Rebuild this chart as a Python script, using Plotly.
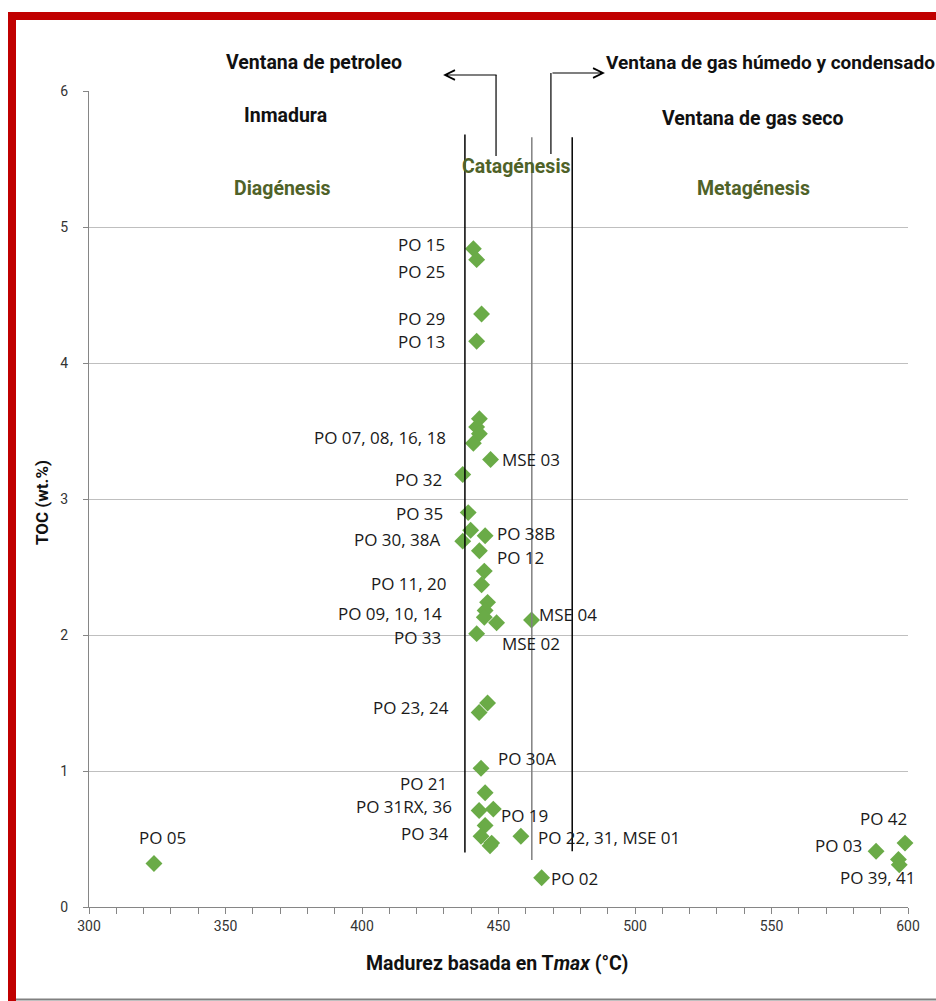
import plotly.graph_objects as go

# ---------------- data ----------------
tmax = [440.8, 442.0, 443.8, 442.0, 443.0, 442.0, 443.0, 440.8, 447.1, 436.9,
        438.9, 439.8, 436.9, 445.1, 443.0, 444.8, 443.8, 446.0, 445.1, 444.8,
        449.3, 462.1, 442.0, 446.0, 442.9, 443.6, 445.1, 442.9, 448.1, 445.1,
        443.6, 447.5, 446.9, 458.2, 465.8, 323.8, 588.3, 598.9, 596.5, 596.8]
toc = [4.84, 4.76, 4.36, 4.16, 3.59, 3.53, 3.48, 3.41, 3.29, 3.18,
       2.90, 2.77, 2.69, 2.73, 2.62, 2.47, 2.37, 2.24, 2.18, 2.13,
       2.09, 2.11, 2.01, 1.50, 1.43, 1.02, 0.84, 0.71, 0.72, 0.60,
       0.52, 0.47, 0.45, 0.52, 0.215, 0.32, 0.41, 0.47, 0.35, 0.31]

label_text = ["PO 15", "PO 25", "PO 29", "PO 13", "PO 07, 08, 16, 18", "MSE 03",
              "PO 32", "PO 35", "PO 38B", "PO 30, 38A", "PO 12", "PO 11, 20",
              "PO 09, 10, 14", "MSE 04", "PO 33", "MSE 02", "PO 23, 24", "PO 30A",
              "PO 21", "PO 31RX, 36", "PO 19", "PO 34", "PO 22, 31, MSE 01",
              "PO 02", "PO 05", "PO 42", "PO 03", "PO 39, 41"]
# label anchor positions (x, y in data units) and alignment
label_x = [431.1, 431.1, 431.1, 431.1, 431.5, 450.5, 430.0, 430.4, 448.7, 429.7,
           448.7, 431.9, 430.0, 464.1, 429.7, 450.5, 432.6, 449.1, 431.9, 433.7,
           450.2, 432.6, 463.7, 468.5, 317.6, 581.7, 583.9, 574.4]
label_y = [4.87, 4.67, 4.33, 4.16, 3.45, 3.29, 3.14, 2.89, 2.75, 2.70,
           2.57, 2.38, 2.16, 2.15, 1.98, 1.94, 1.47, 1.09, 0.91, 0.74,
           0.67, 0.54, 0.51, 0.21, 0.51, 0.65, 0.45, 0.22]
label_align = ["right", "right", "right", "right", "right", "left", "right", "right",
               "left", "right", "left", "right", "right", "left", "right", "left",
               "right", "left", "right", "right", "left", "right", "left", "left",
               "left", "left", "right", "left"]

x_ticks = [300, 350, 400, 450, 500, 550, 600]
y_ticks = [0, 1, 2, 3, 4, 5, 6]

# stage boundaries (Tmax) and their vertical extents (TOC)
boundary_x = [437.7, 462.2, 477.0]
boundary_y0 = [0.40, 0.345, 0.41]
boundary_y1 = [5.68, 5.66, 5.66]
boundary_color = ["black", "#808080", "black"]

# ---------------- figure ----------------
W, H = 936, 1001
PL, PR, PT, PB = 89, 908, 91, 907          # plot area in window pixels
PW, PH = PR - PL, PB - PT
ML, MT = PL, PT
MR, MB = W - ML - PW, H - MT - PH


def px2paper_x(px):
    return (px - PL) / PW


def px2paper_y(py):
    return (PB - py) / PH


GREEN = "#6aab47"
TXT_GREEN = "#4f6228"
HFONT = "Liberation Sans Narrow, Roboto, Arial"
LFONT = "Open Sans, Noto Sans, Arial"

fig = go.Figure()
fig.add_trace(go.Scatter(
    x=tmax, y=toc, mode="markers",
    marker=dict(symbol="diamond", size=13, color=GREEN, line=dict(width=0)),
    showlegend=False, hoverinfo="x+y", cliponaxis=False,
))

shapes = []
for bx, y0, y1, c in zip(boundary_x, boundary_y0, boundary_y1, boundary_color):
    shapes.append(dict(type="line", xref="x", yref="y", x0=bx, x1=bx, y0=y0, y1=y1,
                       line=dict(color=c, width=1.5), layer="above"))

# arrow stems (vertical parts)
shapes.append(dict(type="line", xref="x", yref="paper", x0=449.1, x1=449.1,
                   y0=px2paper_y(156), y1=px2paper_y(75), line=dict(color="black", width=1.2)))
shapes.append(dict(type="line", xref="x", yref="paper", x0=469.2, x1=469.2,
                   y0=px2paper_y(154), y1=px2paper_y(73), line=dict(color="black", width=1.2)))

# red frame
shapes.append(dict(type="rect", xref="paper", yref="paper",
                   x0=px2paper_x(8), x1=px2paper_x(960), y0=px2paper_y(20), y1=px2paper_y(12),
                   fillcolor="#c00000", line=dict(width=0)))
shapes.append(dict(type="rect", xref="paper", yref="paper",
                   x0=px2paper_x(8), x1=px2paper_x(16), y0=px2paper_y(1010), y1=px2paper_y(12),
                   fillcolor="#c00000", line=dict(width=0)))
shapes.append(dict(type="line", xref="paper", yref="paper",
                   x0=px2paper_x(16), x1=px2paper_x(960), y0=px2paper_y(999.5), y1=px2paper_y(999.5),
                   line=dict(color="#808080", width=2)))

annotations = []
for t, lx, ly, al in zip(label_text, label_x, label_y, label_align):
    annotations.append(dict(x=lx, y=ly, xref="x", yref="y", text=t, showarrow=False,
                            xanchor=al, yanchor="middle",
                            font=dict(family=LFONT, size=17, color="#1a1a1a")))

# arrows (horizontal parts)
annotations.append(dict(x=429.7, y=px2paper_y(75), xref="x", yref="paper", text="",
                        showarrow=True, ax=55, ay=0, arrowhead=5, arrowsize=1.6,
                        arrowwidth=1.2, arrowcolor="black"))
annotations.append(dict(x=489.0, y=px2paper_y(73), xref="x", yref="paper", text="",
                        showarrow=True, ax=-54, ay=0, arrowhead=5, arrowsize=1.6,
                        arrowwidth=1.2, arrowcolor="black"))

hdr = [
    ("<b>Ventana de petroleo</b>", 314, 63, "center", "#111111", 19.5),
    ("<b>Ventana de gas húmedo y condensado</b>", 604, 63, "left", "#111111", 19),
    ("<b>Inmadura</b>", 285, 115, "center", "#111111", 19.5),
    ("<b>Ventana de gas seco</b>", 753, 118, "center", "#111111", 19.5),
    ("<b>Diagénesis</b>", 282, 188, "center", TXT_GREEN, 19.5),
    ("<b>Catagénesis</b>", 516, 166, "center", TXT_GREEN, 19.5),
    ("<b>Metagénesis</b>", 753, 188, "center", TXT_GREEN, 19.5),
]
for t, px, py, al, col, fs in hdr:
    annotations.append(dict(x=px2paper_x(px), y=px2paper_y(py), xref="paper", yref="paper",
                            text=t, showarrow=False, xanchor=al, yanchor="middle",
                            font=dict(family=HFONT, size=fs, color=col)))

# axis titles
annotations.append(dict(x=px2paper_x(497), y=px2paper_y(963), xref="paper", yref="paper",
                        text="<b>Madurez basada en T<i>max</i> (°C)</b>", showarrow=False,
                        xanchor="center", yanchor="middle",
                        font=dict(family=HFONT, size=19.5, color="#111111")))
annotations.append(dict(x=px2paper_x(42), y=px2paper_y(503), xref="paper", yref="paper",
                        text="<b>TOC (wt.%)</b>", showarrow=False, textangle=-90,
                        xanchor="center", yanchor="middle",
                        font=dict(family=HFONT, size=17, color="#111111")))

fig.update_layout(
    width=W, height=H,
    margin=dict(l=ML, r=MR, t=MT, b=MB),
    paper_bgcolor="white", plot_bgcolor="white",
    shapes=shapes, annotations=annotations,
    xaxis=dict(range=[300, 600], tickvals=x_ticks, showgrid=False, zeroline=False,
               showline=True, linecolor="#868686", linewidth=1,
               ticks="outside", ticklen=6, tickcolor="#868686",
               minor=dict(dtick=10, ticks="outside", ticklen=6, tickcolor="#868686"),
               tickfont=dict(family=HFONT, size=14, color="#333333")),
    yaxis=dict(range=[0, 6], tickvals=y_ticks, showgrid=True, gridcolor="#bfbfbf",
               gridwidth=1.2, zeroline=False, showline=True, linecolor="#868686",
               linewidth=1, ticks="outside", ticklen=5, tickcolor="#868686",
               tickfont=dict(family=HFONT, size=14, color="#333333"), ticklabelstandoff=12),
)

fig.write_html(
    "out.html",
    config={"displayModeBar": False},
    post_script="document.body.style.margin='0px';"
                "document.documentElement.style.overflow='hidden';",
)
